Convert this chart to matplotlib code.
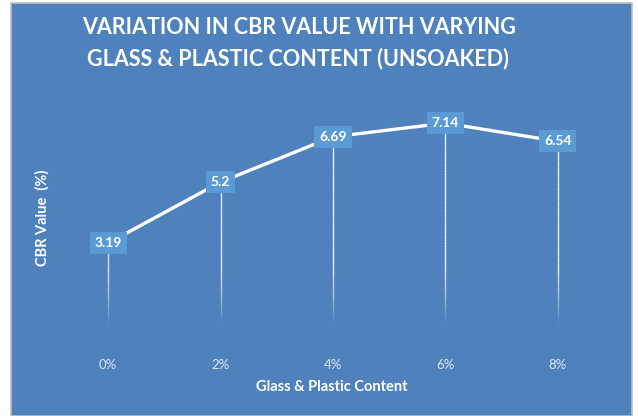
import numpy as np
import matplotlib
matplotlib.use("Agg")
import matplotlib.pyplot as plt
from matplotlib.patches import Rectangle
from matplotlib.collections import LineCollection

categories = ["0%", "2%", "4%", "6%", "8%"]
cbr_values = [3.19, 5.2, 6.69, 7.14, 6.54]
value_labels = ["3.19", "5.2", "6.69", "7.14", "6.54"]

W, H = 638, 416
fig = plt.figure(figsize=(W/100, H/100), dpi=100, facecolor="white")
bg = Rectangle((11/W, 0), (632-11)/W, (416-3)/H, transform=fig.transFigure,
               facecolor="#4F81BD", edgecolor="#BFBFBF", linewidth=1.2, zorder=-5)
fig.patches.append(bg)

ax = fig.add_axes([52/W, (H-340)/H, (614-52)/W, (340-97)/H])
ax.set_zorder(2)
ax.set_facecolor("none")
ax.set_xlim(-0.5, 4.5)
ax.set_ylim(0, 8)
x = np.arange(len(categories))

# drop lines with fading gradient
for xi, v in zip(x, cbr_values):
    ys = np.linspace(0.45, v, 80)
    segs = [[(xi, ys[i]), (xi, ys[i+1])] for i in range(len(ys)-1)]
    alphas = np.clip((ys[:-1] - 0.45) / 1.8, 0, 1)
    cols = [(1, 1, 1, a*0.95) for a in alphas]
    lc = LineCollection(segs, colors=cols, linewidths=1.0, zorder=2)
    ax.add_collection(lc)

ax.plot(x, cbr_values, color="white", linewidth=2.4, zorder=3, solid_capstyle="round")

for xi, v, lab in zip(x, cbr_values, value_labels):
    ax.text(xi, v, lab, ha="center", va="center", color="white", fontsize=10,
            family="Lato", fontweight="bold", zorder=5,
            bbox=dict(boxstyle="square,pad=0.35", facecolor="#5B9BD5", edgecolor="none"))

ax.set_xticks(x)
ax.set_xticklabels(categories, color="#E0E6EE", fontsize=9.5, family="Lato")
ax.tick_params(axis="x", length=0, pad=14)
ax.set_yticks([])
for s in ax.spines.values():
    s.set_visible(False)

fig.text(332/W, 1 - 387/H, "Glass & Plastic Content", ha="center", va="center",
         color="white", fontsize=10.5, family="Lato", fontweight="bold")
fig.text(42/W, 1 - 218/H, "CBR Value  (%)", ha="center", va="center", rotation=90,
         color="white", fontsize=10.5, family="Lato", fontweight="bold")
fig.text(299/W, 1 - 27/H, "VARIATION IN CBR VALUE WITH VARYING", ha="center", va="center",
         color="white", fontsize=15.5, family="Lato", fontweight="bold")
fig.text(298/W, 1 - 59/H, "GLASS & PLASTIC CONTENT (UNSOAKED)", ha="center", va="center",
         color="white", fontsize=15.5, family="Lato", fontweight="bold")

fig.savefig("out.png", dpi=100, facecolor="white")
